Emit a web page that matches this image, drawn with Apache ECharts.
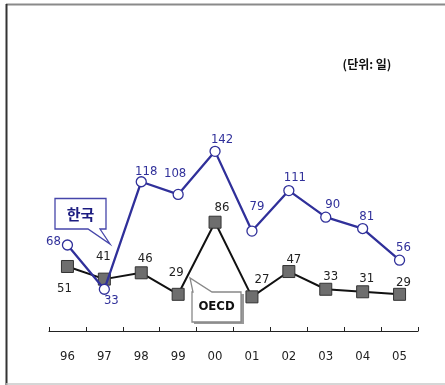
<!DOCTYPE html>
<html><head><meta charset="utf-8">
<script src="https://cdn.jsdelivr.net/npm/echarts@6/dist/echarts.min.js"></script>
<style>html,body{margin:0;padding:0;background:#fff}#c{width:445px;height:385px}</style>
</head><body><div id="c"></div>
<script>
const categories = ['96','97','98','99','00','01','02','03','04','05'];
const korea = [68, 33, 118, 108, 142, 79, 111, 90, 81, 56];
const oecd = [51, 41, 46, 29, 86, 27, 47, 33, 31, 29];
const unitText = '(단위: 일)';
const koreaName = '한국';
const oecdName = 'OECD';

// label placement (offset from marker centre)
const koreaLabelOff = [[-14,-3],[7,11],[5,-10],[-3,-21],[7,-12],[5,-24],[6,-13],[7,-13],[4,-12],[4,-13]];
const oecdLabelOff = [[-3,22],[-1,-23],[4,-14],[-2,-22],[7,-15],[10,-17],[5,-12],[5,-13],[4,-13],[4,-12]];

const numFont = "'Liberation Sans Narrow','DejaVu Sans Condensed','Liberation Sans',sans-serif";
const BLUE = '#30309a';

function mk(vals, offs) {
  return vals.map((v, i) => ({ value: v, label: { offset: offs[i] } }));
}

const chart = echarts.init(document.getElementById('c'), null, {renderer: 'canvas'});
chart.setOption({
  animation: false,
  backgroundColor: '#fff',
  grid: { left: 49, right: 27, top: 78, bottom: 54 },
  xAxis: {
    type: 'category', data: categories, boundaryGap: true,
    axisLine: { lineStyle: { color: '#222', width: 1.2 } },
    axisTick: { show: true, inside: true, length: 4, lineStyle: { color: '#222' } },
    axisLabel: { color: '#222', fontSize: 13, fontFamily: numFont, margin: 19 }
  },
  yAxis: { type: 'value', min: 0, max: 200, show: false, splitLine: { show: false } },
  series: [
    {
      name: oecdName, type: 'line', data: mk(oecd, oecdLabelOff),
      symbol: 'rect', symbolSize: 12,
      lineStyle: { color: '#111', width: 2 },
      itemStyle: { color: '#6e6e6e', borderColor: '#333', borderWidth: 1 },
      label: { show: true, position: 'inside', color: '#222', fontSize: 13, fontFamily: numFont, align: 'center', verticalAlign: 'middle' },
      z: 3
    },
    {
      name: koreaName, type: 'line', data: mk(korea, koreaLabelOff),
      symbol: 'circle', symbolSize: 10, showAllSymbol: true,
      lineStyle: { color: BLUE, width: 2.3 },
      itemStyle: { color: '#fff', borderColor: BLUE, borderWidth: 1.3 },
      label: { show: true, position: 'inside', color: BLUE, fontSize: 13, fontFamily: numFont, align: 'center', verticalAlign: 'middle' },
      z: 4
    }
  ],
  graphic: [
    { type: 'line', shape: { x1: 6, y1: 4.5, x2: 445, y2: 4.5 }, style: { stroke: '#8a8a8a', lineWidth: 2 }, z: 10 },
    { type: 'line', shape: { x1: 6.5, y1: 4, x2: 6.5, y2: 385 }, style: { stroke: '#333', lineWidth: 2 }, z: 10 },
    { type: 'line', shape: { x1: 6, y1: 384, x2: 445, y2: 384 }, style: { stroke: '#c8c8c8', lineWidth: 1.5 }, z: 10 },
    { type: 'text', x: 367, y: 64, style: { text: unitText, font: "bold 12px 'Noto Sans CJK KR',sans-serif", fill: '#111', textAlign: 'center', textVerticalAlign: 'middle' }, z: 10 },
    { type: 'polygon', shape: { points: [[55,198.5],[106,198.5],[106,229],[100,229],[110,244],[88,229],[55,229]] },
      style: { fill: '#fff', stroke: '#4646aa', lineWidth: 1.3 }, z: 20 },
    { type: 'text', x: 80.5, y: 214, style: { text: koreaName, font: "bold 15px 'Noto Sans CJK KR',sans-serif", fill: '#1c1c80', textAlign: 'center', textVerticalAlign: 'middle' }, z: 21 },
    { type: 'polygon', shape: { points: [[194,294],[196,294],[192,280],[214,294],[244,294],[244,324],[194,324]] },
      style: { fill: '#999', stroke: null }, z: 19 },
    { type: 'polygon', shape: { points: [[192,292],[193,292],[190,278],[212,292],[241,292],[241,322],[192,322]] },
      style: { fill: '#fff', stroke: '#888', lineWidth: 1.3 }, z: 20 },
    { type: 'text', x: 216.5, y: 307, style: { text: oecdName, font: "bold 13px 'Liberation Sans Narrow','DejaVu Sans Condensed','Liberation Sans',sans-serif", fill: '#111', textAlign: 'center', textVerticalAlign: 'middle' }, z: 21 }
  ]
});
</script></body></html>
